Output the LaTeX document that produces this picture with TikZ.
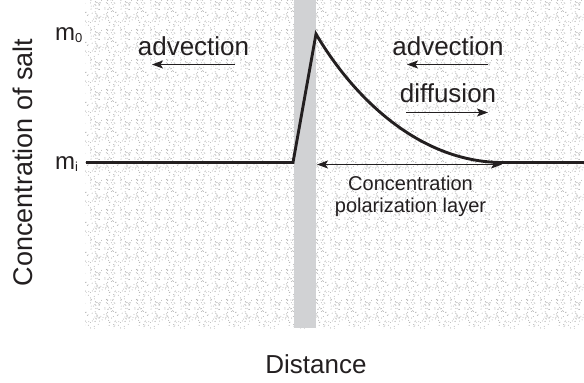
\documentclass[tikz,border=0pt]{standalone}
\usepackage{fontspec}
\setmainfont{Liberation Sans}
\usetikzlibrary{arrows.meta,patterns.meta}
\definecolor{membrane}{HTML}{D1D2D4}
\definecolor{dotgray}{HTML}{B4B4B4}
\definecolor{ink}{HTML}{231F20}
\tikzdeclarepattern{
  name=stipple,
  type=uncolored,
  bottom left={(0pt,0pt)},
  top right={(30pt,30pt)},
  tile size={(30pt,30pt)},
  code={
    \pgfmathsetseed{11}
    \foreach \i in {1,...,100}{
      \pgfmathsetmacro{\px}{rnd*30}
      \pgfmathsetmacro{\py}{rnd*30}
      \fill (\px pt,\py pt) circle (0.55pt);
    }
  }
}
\tikzset{
  bigtxt/.style={font=\fontsize{26}{30}\selectfont, text=ink, inner sep=0pt},
  smalltxt/.style={font=\fontsize{20}{22}\selectfont, text=ink, inner sep=0pt},
  mtxt/.style={font=\fontsize{24}{26}\selectfont, text=ink, inner sep=0pt},
  profile/.style={line width=2.9pt, draw=ink, line join=miter, miter limit=20},
  tip/.style={Stealth[length=11pt,width=8pt,inset=2.5pt]},
  flow/.style={line width=1.2pt, draw=ink, -{Stealth[length=11pt,width=8pt,inset=2.5pt]}},
  bothflow/.style={line width=1.2pt, draw=ink, {Stealth[length=11pt,width=8pt,inset=2.5pt]}-{Stealth[length=11pt,width=8pt,inset=2.5pt]}}
}
\newcommand{\subsc}[1]{{\fontsize{13}{13}\selectfont\raisebox{-2.5pt}{#1}}}
\begin{document}
\begin{tikzpicture}[x=1pt,y=-1pt]
\useasboundingbox (0,0) rectangle (584,383);
% stippled region
\path[pattern=stipple, pattern color=dotgray] (85,0) rectangle (584,328);
% membrane
\fill[membrane] (294,0) rectangle (316,328);

% coordinates of the profile
\coordinate (L) at (86,162.5);
\coordinate (foot) at (293,162.5);
\coordinate (peak) at (316,34);
\coordinate (merge) at (500,162.5);
\coordinate (R) at (584,162.5);
\draw[profile] (L) -- (foot) -- (peak) .. controls (355,100) and (420,161) .. (merge) -- (R);

% concentration polarization layer arrow
\coordinate (cplA) at (317,164.5);
\coordinate (cplB) at (502,164.5);
\draw[bothflow] (cplA) -- (cplB);

% flow arrows
\coordinate (la1) at (235,64.5);
\coordinate (la2) at (152,64.5);
\draw[flow] (la1) -- (la2);
\coordinate (ra1) at (488,64.5);
\coordinate (ra2) at (407,64.5);
\draw[flow] (ra1) -- (ra2);
\coordinate (df1) at (406,112.5);
\coordinate (df2) at (488,112.5);
\draw[flow] (df1) -- (df2);

% labels
\node[bigtxt, anchor=base] (advL) at (193.5,55) {advection};
\node[bigtxt, anchor=base] (advR) at (448,55) {advection};
\node[bigtxt, anchor=base] (diff) at (448,102.5) {diffusion};
\node[smalltxt, anchor=base] (cpl1) at (410.5,190) {Concentration};
\node[smalltxt, anchor=base] (cpl2) at (410.5,212) {polarization layer};
\node[bigtxt, anchor=base] (dist) at (316,373) {Distance};
\node[font=\fontsize{27}{30}\selectfont, text=ink, inner sep=0pt, rotate=90, anchor=base] (ylab) at (32.5,162.5) {Concentration of salt};
\node[mtxt, anchor=base west] (m0) at (55,40) {m\subsc{0}};
\node[mtxt, anchor=base west] (mi) at (55,169) {m\subsc{i}};
\end{tikzpicture}
\end{document}
